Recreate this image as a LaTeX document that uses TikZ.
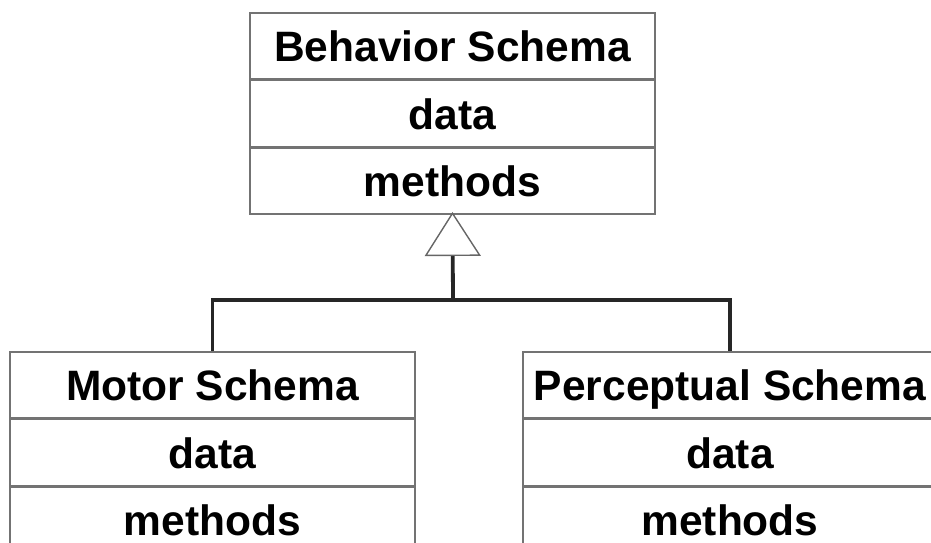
\documentclass[tikz,border=0pt]{standalone}
\usepackage{fontspec}
\setmainfont{Liberation Sans}
\usetikzlibrary{positioning,arrows.meta}
\tikzset{
  cell/.style={draw=black!55,line width=1.6pt,fill=white,minimum height=66pt,
    text height=31pt,text depth=0pt,inner sep=0pt,font=\fontsize{42.5}{50}\selectfont\bfseries},
  inherit/.style={line width=3.8pt,black!85},
}
\begin{document}
\begin{tikzpicture}[x=1pt,y=-1pt,node distance=0pt]
\useasboundingbox (0,0) rectangle (931,543);
\clip (0,0) rectangle (931,543);
% parent class
\node[cell,minimum width=405pt] (bname) at (452.5,46) {Behavior Schema};
\node[cell,minimum width=405pt,below=of bname] (bdata) {data};
\node[cell,minimum width=405pt,below=of bdata] (bmeth) {methods};
% child classes
\node[cell,minimum width=405pt] (mname) at (212.5,385) {Motor Schema};
\node[cell,minimum width=405pt,below=of mname] (mdata) {data};
\node[cell,minimum width=405pt,below=of mdata] (mmeth) {methods};
\node[cell,minimum width=414pt] (pname) at (730,385) {Perceptual Schema};
\node[cell,minimum width=414pt,below=of pname] (pdata) {data};
\node[cell,minimum width=414pt,below=of pdata] (pmeth) {methods};
% generalization
\coordinate (join) at (453,300);
\draw[inherit] (mname.north) |- (join) -| (pname.north);
\draw[inherit,shorten >=-3pt,-{Triangle[open,length=44pt,width=56pt,line width=1.4pt,color=black!60,fill=white]}]
  (join) -- (bmeth.south);
\end{tikzpicture}
\end{document}
